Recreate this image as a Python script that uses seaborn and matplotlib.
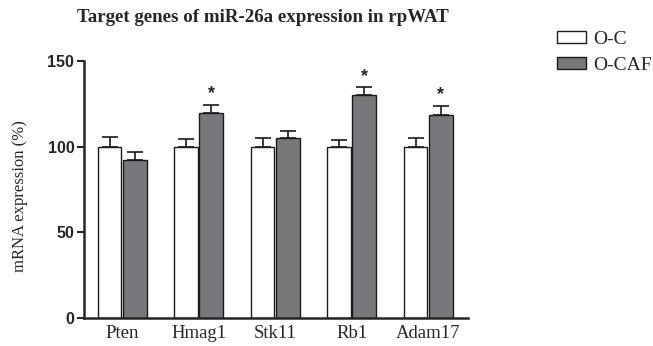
import numpy as np
import pandas as pd
import matplotlib
matplotlib.use("Agg")
import matplotlib.pyplot as plt
import seaborn as sns

# values
genes = ["Pten", "Hmag1", "Stk11", "Rb1", "Adam17"]
groups = ["O-C", "O-CAF"]
oc_mean = [100, 100, 100, 100, 100]
oc_sem = [5.8, 4.5, 5.3, 3.8, 5.0]
ocaf_mean = [92, 119.5, 105, 130, 118.5]
ocaf_sem = [5.0, 5.0, 4.3, 4.6, 5.3]
ocaf_sig = [False, True, False, True, True]

sns.set_theme(style="ticks")
plt.rcParams["font.family"] = ["Liberation Serif", "DejaVu Serif"]

df = pd.DataFrame({
    "gene": genes * 2,
    "group": [groups[0]] * len(genes) + [groups[1]] * len(genes),
    "value": oc_mean + ocaf_mean,
})

fig = plt.figure(figsize=(6.53, 3.46), dpi=100)
ax = fig.add_axes([0.1286, 0.0809, 0.7167 - 0.1286, 0.8237 - 0.0809])

sns.barplot(data=df, x="gene", y="value", hue="group", order=genes,
            hue_order=groups, palette=["white", "#77787b"], width=0.66,
            gap=0.06, edgecolor="#1a1a1a", linewidth=1.0, errorbar=None,
            saturation=1, ax=ax)

# one-sided SEM error bars on top of each bar
sems = {"O-C": oc_sem, "O-CAF": ocaf_sem}
for container, grp in zip(ax.containers, groups):
    for i, bar in enumerate(container):
        cx = bar.get_x() + bar.get_width() / 2
        top = bar.get_height()
        ax.errorbar(cx, top, yerr=[[0], [sems[grp][i]]], fmt="none",
                    ecolor="#1a1a1a", elinewidth=1.2, capsize=5.5,
                    capthick=1.2)
        if grp == "O-CAF" and ocaf_sig[i]:
            ax.text(cx, top + sems[grp][i] + 1.5, "*", ha="center",
                    va="bottom", fontsize=13, fontweight="bold",
                    family=["Liberation Sans"])

ax.set_xlim(-0.5, 4.52)
ax.set_ylim(0, 150)
ax.set_yticks([0, 50, 100, 150])
ax.set_yticklabels(["0", "50", "100", "150"], fontweight="bold",
                   family="Liberation Sans", fontsize=11.5)
ax.tick_params(axis="y", length=5, width=1.5, pad=2)
ax.tick_params(axis="x", length=0, labelsize=13.5, pad=5)
for lbl in ax.get_xticklabels():
    lbl.set_family("Liberation Serif")
ax.set_xlabel("")
ax.set_ylabel("")
fig.text(20 / 653, 1 - 196 / 346, "mRNA expression (%)", rotation=90,
         ha="center", va="center", fontsize=12)
for s in ["left", "bottom"]:
    ax.spines[s].set_linewidth(1.8)
sns.despine(ax=ax)

fig.text(263 / 653, 1 - 18 / 346, "Target genes of miR-26a expression in rpWAT",
         ha="center", va="center", fontsize=13.6, fontweight="bold")

handles, labels = ax.get_legend_handles_labels()
ax.legend(handles, labels, loc="upper left", bbox_to_anchor=(0.853, 0.91),
          bbox_transform=fig.transFigure, frameon=False, fontsize=14,
          handlelength=1.5, handleheight=0.57, handletextpad=0.35,
          labelspacing=0.45, borderaxespad=0, borderpad=0)

fig.savefig("out.png", dpi=100)
